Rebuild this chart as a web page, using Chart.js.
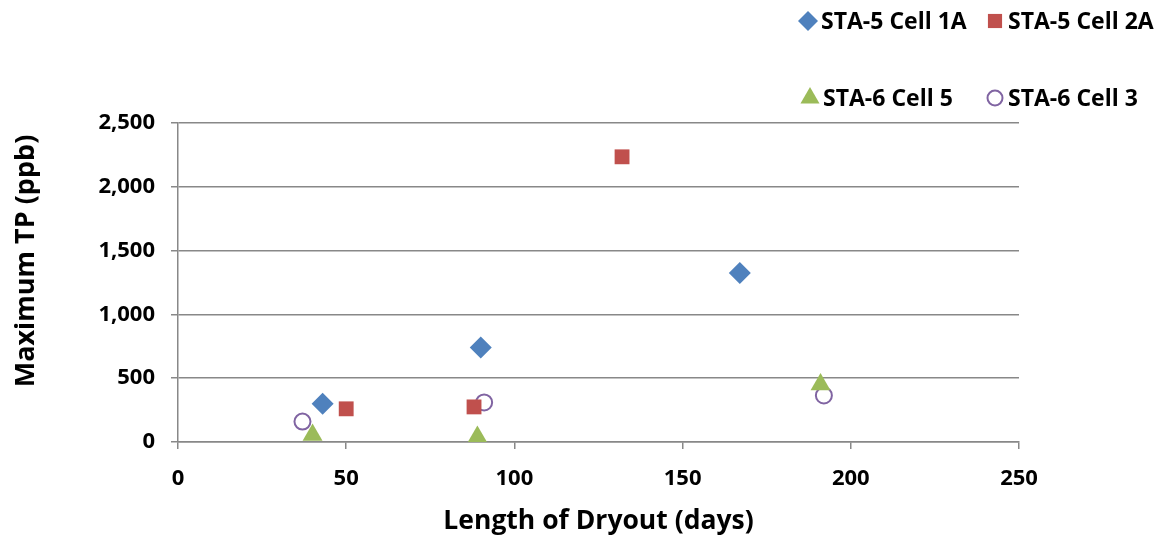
<!DOCTYPE html>
<html>
<head>
<meta charset="utf-8">
<script src="https://cdn.jsdelivr.net/npm/chart.js@4/dist/chart.umd.min.js"></script>
<style>
  html, body { margin: 0; padding: 0; background: #fff; }
  #wrap { position: relative; width: 1162px; height: 537px; }
</style>
</head>
<body>
<div id="wrap"><canvas id="myChart" width="1162" height="537"></canvas></div>
<script>
// Data (days of dryout, max TP in ppb)
const seriesNames = ['STA-5 Cell 1A', 'STA-5 Cell 2A', 'STA-6 Cell 5', 'STA-6 Cell 3'];
const cell1aDays = [43, 90, 167];
const cell1aTP = [300, 740, 1325];
const cell2aDays = [50, 88, 132];
const cell2aTP = [260, 275, 2235];
const cell5Days = [40, 89, 191];
const cell5TP = [55, 40, 450];
const cell3Days = [37, 91, 192];
const cell3TP = [160, 310, 365];
const xTicks = [0, 50, 100, 150, 200, 250];
const yTicks = [0, 500, 1000, 1500, 2000, 2500];
const yTitle = 'Maximum TP (ppb)';

const FONT = '"Open Sans", Lato, sans-serif';

function toPoints(xs, ys) {
    return xs.map((x, i) => ({x: x, y: ys[i]}));
}

const data = {
    datasets: [
        {label: seriesNames[0], data: toPoints(cell1aDays, cell1aTP), pointStyle: 'rectRot', pointRadius: 11,
         backgroundColor: '#4f81bd', borderColor: '#4f81bd', borderWidth: 0},
        {label: seriesNames[1], data: toPoints(cell2aDays, cell2aTP), pointStyle: 'rect', pointRadius: 10.5,
         backgroundColor: '#c0504d', borderColor: '#c0504d', borderWidth: 0},
        {label: seriesNames[2], data: toPoints(cell5Days, cell5TP), pointStyle: 'triangle', pointRadius: 11.5,
         backgroundColor: '#9bbb59', borderColor: '#9bbb59', borderWidth: 0},
        {label: seriesNames[3], data: toPoints(cell3Days, cell3TP), pointStyle: 'circle', pointRadius: 8,
         backgroundColor: 'rgba(0,0,0,0)', borderColor: '#8064a2', borderWidth: 2}
    ]
};

// legend drawn by hand: 2 x 2 with a big gap between the rows
const legendSpots = [
    {x: 808, y: 21}, {x: 995, y: 21},
    {x: 810, y: 98}, {x: 995, y: 98}
];

const cornerLegend = {
    id: 'cornerLegend',
    afterDraw(chart) {
        const ctx = chart.ctx;
        ctx.save();
        ctx.font = 'bold 23px ' + FONT;
        ctx.textBaseline = 'middle';
        chart.data.datasets.forEach((ds, i) => {
            const p = legendSpots[i];
            const r = ds.pointStyle === 'circle' ? 7.5 : (ds.pointStyle === 'triangle' ? 11 : 10);
            ctx.save();
            ctx.fillStyle = ds.backgroundColor;
            ctx.strokeStyle = ds.borderColor;
            ctx.lineWidth = ds.borderWidth;
            Chart.helpers.drawPoint(ctx, {pointStyle: ds.pointStyle, radius: r, borderWidth: ds.borderWidth}, p.x, p.y);
            ctx.restore();
            ctx.fillStyle = '#000';
            ctx.fillText(ds.label, p.x + 13, p.y + 1);
        });

        // y title sits a bit above the middle of the plot, like the original
        ctx.translate(26, 261);
        ctx.rotate(-Math.PI / 2);
        ctx.font = 'bold 27px ' + FONT;
        ctx.textAlign = 'center';
        ctx.fillStyle = '#000';
        ctx.fillText(yTitle, 0, 0);
        ctx.restore();
    }
};

const config = {
    type: 'scatter',
    data: data,
    options: {
        responsive: false,
        animation: false,
        layout: {padding: {left: 0, right: 143, top: 123, bottom: 0}},
        plugins: {legend: {display: false}, tooltip: {enabled: false}},
        scales: {
            x: {
                type: 'linear', min: 0, max: 250,
                afterBuildTicks: (s) => { s.ticks = xTicks.map(v => ({value: v})); },
                afterFit: (s) => { s.height = 95; },
                grid: {drawOnChartArea: false, drawTicks: true, tickLength: 7, color: '#888', lineWidth: 1.5},
                border: {display: true, color: '#888', width: 1.5},
                ticks: {color: '#000', font: {family: FONT, size: 22, weight: 'bold'}, padding: 17},
                title: {display: true, text: 'Length of Dryout (days)', color: '#000',
                        font: {family: FONT, size: 26.5, weight: 'bold'}, padding: {top: 10, bottom: 0}}
            },
            y: {
                type: 'linear', min: 0, max: 2500,
                afterBuildTicks: (s) => { s.ticks = yTicks.map(v => ({value: v})); },
                afterFit: (s) => { s.width = 178; },
                grid: {drawOnChartArea: true, drawTicks: true, tickLength: 7, color: '#888', lineWidth: 1.5},
                border: {display: true, color: '#888', width: 1.5},
                ticks: {color: '#000', font: {family: FONT, size: 22, weight: 'bold'}, padding: 16,
                        callback: (v) => v.toLocaleString('en-US')},
                title: {display: false}
            }
        }
    },
    plugins: [cornerLegend]
};

const myChart = new Chart(document.getElementById('myChart'), config);
</script>
</body>
</html>
